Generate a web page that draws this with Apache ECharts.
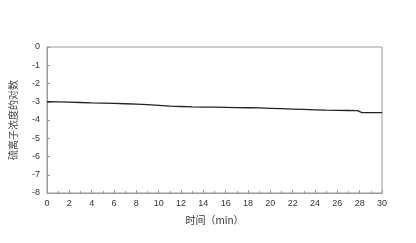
<!DOCTYPE html>
<html><head><meta charset="utf-8">
<script src="https://cdn.jsdelivr.net/npm/echarts@6/dist/echarts.min.js"></script>
<style>html,body{margin:0;padding:0;background:#fff}#c{width:416px;height:243px}</style>
</head><body><div id="c"></div>
<script>
var times = [0,1,2,3,4,5,6,7,8,9,10,11,12,13,14,15,16,17,18,19,20,21,22,23,24,25,26,27,27.8,28.2,29,30];
var logConc = [-3.00,-3.01,-3.02,-3.04,-3.06,-3.07,-3.09,-3.11,-3.13,-3.16,-3.20,-3.24,-3.26,-3.28,-3.29,-3.30,-3.31,-3.32,-3.33,-3.34,-3.36,-3.38,-3.40,-3.42,-3.44,-3.46,-3.47,-3.48,-3.49,-3.60,-3.60,-3.60];
var xName = '时间（min）';
var yName = '硫离子浓度的对数';
var chart = echarts.init(document.getElementById('c'));
var font = '"Liberation Sans", Arial, sans-serif';
chart.setOption({
  animation:false,
  grid:{left:45,right:34,top:47,bottom:50,show:true,borderColor:'#999',borderWidth:1},
  xAxis:{type:'value',min:0,max:30,interval:2,
    name:xName,nameLocation:'middle',nameGap:22,
    nameTextStyle:{fontSize:10,color:'#333',fontFamily:'"Noto Sans CJK SC", sans-serif'},
    axisLine:{onZero:false,lineStyle:{color:'#999'}},
    axisTick:{inside:true,length:3,lineStyle:{color:'#999'}},
    minorTick:{show:true,splitNumber:2,length:2,lineStyle:{color:'#999'}},
    axisLabel:{fontSize:9,color:'#333',fontFamily:font,margin:6},
    splitLine:{show:false}},
  yAxis:{type:'value',min:-8,max:0,interval:1,
    name:yName,nameLocation:'middle',nameGap:29,nameRotate:90,
    nameTextStyle:{fontSize:10,color:'#444',fontFamily:'"Noto Sans CJK SC", sans-serif'},
    axisLine:{show:true,onZero:false,lineStyle:{color:'#999'}},
    axisTick:{show:true,inside:true,length:3,lineStyle:{color:'#999'}},
    axisLabel:{fontSize:9,color:'#333',fontFamily:font,margin:7},
    splitLine:{show:false}},
  series:[{type:'line',data:times.map(function(t,i){return [t,logConc[i]];}),
    showSymbol:false,lineStyle:{color:'#222',width:1.3}}]
});
</script></body></html>
